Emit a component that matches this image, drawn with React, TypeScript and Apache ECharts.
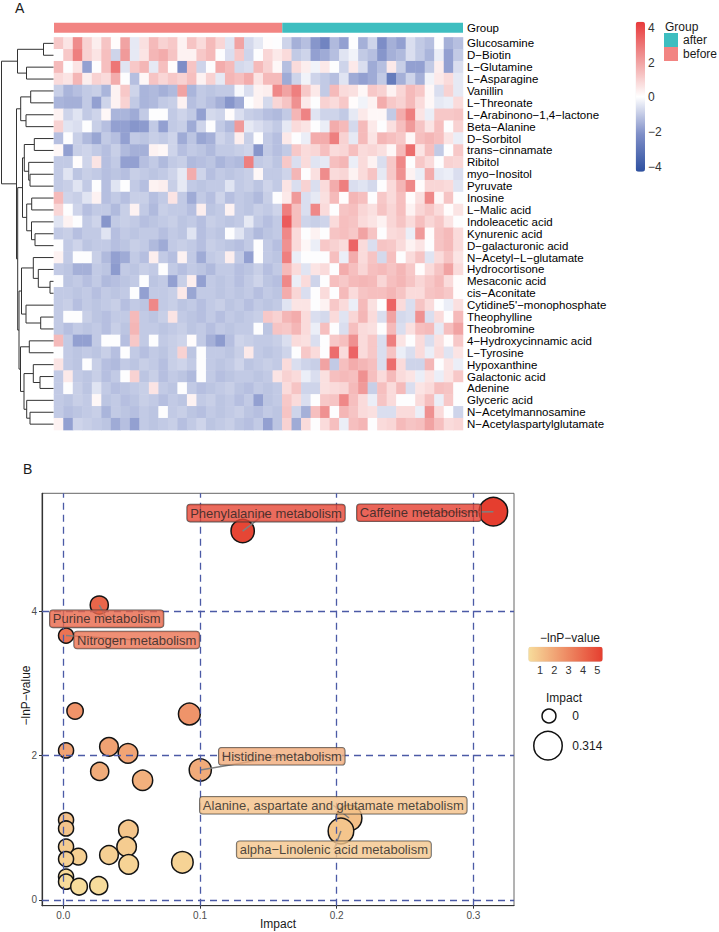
import React, { useEffect, useRef } from "react";
import * as echarts from "echarts";

// ---------------- Panel A data ----------------
const metabolites = [
  "Glucosamine", "D−Biotin", "L−Glutamine", "L−Asparagine", "Vanillin", "L−Threonate",
  "L−Arabinono−1,4−lactone", "Beta−Alanine", "D−Sorbitol", "trans−cinnamate", "Ribitol",
  "myo−Inositol", "Pyruvate", "Inosine", "L−Malic acid", "Indoleacetic acid", "Kynurenic acid",
  "D−galacturonic acid", "N−Acetyl−L−glutamate", "Hydrocortisone", "Mesaconic acid", "cis−Aconitate",
  "Cytidine5'−monophosphate", "Theophylline", "Theobromine", "4−Hydroxycinnamic acid", "L−Tyrosine",
  "Hypoxanthine", "Galactonic acid", "Adenine", "Glyceric acid", "N−Acetylmannosamine",
  "N−Acetylaspartylglutamate",
];
const groupNames = ["before", "after"];
const groupSizes = [24, 19];

const heatBefore: number[][] = [
  [1.2, 0.6, 2.5, 1.0, 0.4, 1.3, 0.1, 2.0, -0.4, 0.7, 1.5, 1.0, 1.2, 0.3, 1.3, 0.8, 1.5, 0.9, -0.5, 2.0, -0.7, -0.4, 0.1, 0.0],
  [0.0, 1.2, 2.8, 1.0, 0.6, 1.4, -0.8, 2.2, -0.4, 0.6, 1.6, 1.8, 1.3, 0.3, 0.3, 1.2, 1.5, 0.0, -0.6, 1.2, -0.8, 0.0, 0.9, 0.5],
  [1.5, 0.0, 0.6, -1.8, 0.0, 1.4, 3.0, -0.5, 1.2, 1.6, -0.4, 1.4, 0.1, -2.2, 1.3, -0.8, 0.0, 1.8, 1.5, -0.7, -0.6, 1.5, 1.0, 0.2],
  [0.8, 0.6, 1.6, 0.4, 1.0, 0.8, 1.8, 0.0, -1.2, 0.2, 1.3, 0.9, 1.2, 1.0, 1.4, 0.3, 1.0, -0.4, 1.6, 1.4, 1.8, 0.6, 1.5, 1.5],
  [-0.9, -1.4, -1.2, -1.0, -0.9, -1.4, 0.3, 1.2, -0.8, -1.4, -1.3, -1.5, -1.3, 2.0, -1.4, -1.0, -1.1, -1.0, -1.0, -0.1, -0.6, 0.3, 0.4, 2.6],
  [-1.4, -1.5, -1.5, -1.0, -1.8, -0.8, 0.3, 1.0, -1.0, -1.4, -1.3, -1.0, -0.9, 0.3, -1.2, -1.0, -1.2, -1.5, -2.0, -1.6, 0.0, 0.3, -0.7, 0.9],
  [0.3, -0.8, -0.5, -1.0, -0.8, 0.2, -1.4, -1.4, -1.6, -1.0, 0.0, 0.0, -1.0, -0.8, -1.0, -1.8, -0.7, -0.8, 0.1, -0.6, -0.9, -1.0, -1.2, -1.3],
  [1.0, -0.5, -0.6, 0.0, -0.9, -1.2, -1.8, -1.8, -2.0, -1.9, -1.0, -1.8, -1.0, -0.9, -1.6, -0.8, 0.0, -1.0, -1.3, 2.2, -0.4, -0.6, -0.8, -1.0],
  [-1.2, 0.0, -0.9, -1.3, -1.7, -1.0, -1.2, -1.8, -1.0, -1.1, -0.9, -1.0, -0.8, -1.6, -1.1, -1.7, -1.5, -0.8, -1.0, 0.4, -0.9, 0.0, -1.0, -1.2],
  [0.2, -1.8, -0.9, -0.8, -1.0, -1.2, -0.9, -1.3, -1.5, -1.5, 0.3, 0.2, -0.8, -1.2, -1.0, -1.1, -1.3, -1.0, -1.0, -0.9, -0.8, -2.0, -1.0, -1.2],
  [-1.0, -1.0, 0.1, -0.8, 0.6, -1.2, -1.0, -1.8, -1.8, -1.2, -1.0, -1.3, -1.0, -0.9, -1.3, -1.2, -1.1, -1.4, -1.2, -1.3, 2.8, -1.0, -0.9, -1.1],
  [-1.0, -0.5, -1.1, -0.9, -1.0, -1.2, -1.1, -1.2, -0.9, -1.0, -1.1, -1.0, -0.8, -0.4, 1.8, -0.8, -1.2, -1.0, -1.1, -1.0, -0.9, 0.2, -1.0, -1.0],
  [-1.0, -0.9, -0.5, -1.0, 0.0, -1.2, -0.5, 0.0, -1.0, -1.2, 0.3, 0.4, -0.9, -0.4, -1.0, -1.1, -1.0, -1.0, -0.5, -1.0, -0.9, -1.1, -0.8, -1.0],
  [1.5, -0.8, -0.9, -0.5, 0.3, -1.2, -1.0, -1.2, -0.9, -0.9, -1.2, -1.0, 0.6, -1.0, -1.6, -1.0, -1.2, -0.8, -1.2, -1.0, -1.1, -1.3, -0.9, 0.0],
  [0.9, 0.0, -0.8, -1.2, -1.0, -1.0, -1.3, -0.9, 0.3, -1.0, -1.3, -0.9, -1.0, -1.0, -1.2, 0.4, -1.1, -1.0, 0.3, -1.0, -1.1, -0.9, -1.0, -0.8],
  [-0.5, 0.3, 0.0, -1.0, -0.8, -2.0, -1.0, -0.9, -1.0, -1.2, -1.1, -1.0, -0.9, -1.1, -1.0, -1.2, -0.9, -1.0, -1.1, -1.0, -0.4, -1.0, -1.2, -1.0],
  [-1.0, -0.9, -1.2, -1.0, -1.0, -0.5, -1.2, -1.0, -1.1, -1.0, -1.0, -1.2, -1.0, -1.1, -0.5, -1.2, -1.0, -1.1, 0.0, -0.5, -1.0, -1.3, -1.1, -1.0],
  [0.0, -1.0, -0.8, -1.1, -1.0, -1.0, -1.2, -1.1, -0.9, -1.0, -1.3, -1.6, -1.0, -0.9, -1.0, -1.2, -0.9, -1.0, -1.1, -1.2, -1.0, 0.0, -1.0, -1.2],
  [0.3, -1.0, 0.0, 0.0, -0.9, -1.3, -1.8, -1.6, -1.0, -1.2, 0.4, -1.0, -1.2, 0.3, -1.0, -1.6, -1.0, -0.9, 0.4, -1.0, -1.8, 0.0, -1.0, -1.1],
  [-1.0, -1.1, -1.5, -1.5, -1.0, -1.1, -1.9, -1.0, -1.1, -0.9, -1.0, 0.0, -1.0, -1.2, -1.0, -1.1, -1.3, -1.0, -1.0, -1.2, -1.1, -0.9, -1.2, -1.0],
  [0.0, -1.1, -1.0, -1.2, -1.0, -1.3, -1.2, -1.1, -1.0, 0.0, -1.1, -1.0, -1.8, -0.9, 0.4, -1.8, -1.0, -1.1, -1.0, -1.2, -1.0, -0.8, -1.1, -1.2],
  [-1.0, -1.0, -1.1, -1.0, -1.2, -1.0, -1.1, -1.0, 0.0, -1.8, -1.0, -1.0, -0.9, 0.5, -1.7, -1.0, -1.0, -1.1, -1.0, -1.1, -1.0, -1.2, -1.0, -1.1],
  [-1.0, -0.9, -1.2, -1.0, -1.1, -1.0, -0.9, -1.2, -1.0, -1.1, 2.6, -1.0, -0.9, -1.1, -1.0, -1.2, -1.0, -0.9, -1.1, -1.0, -1.2, -1.0, -1.1, -1.0],
  [-1.0, 0.0, 0.0, -0.9, -1.1, -1.2, -1.0, -1.0, 1.5, -1.0, -1.1, -0.9, 0.6, -1.0, -1.1, -1.2, -1.0, -1.2, -1.0, -1.1, -1.0, -0.9, 1.2, 1.0],
  [-1.0, -1.2, -1.0, -1.1, -1.0, -1.2, -0.9, -1.1, 1.6, -1.0, -1.0, -1.1, -1.0, -0.9, -1.1, -1.0, -1.2, -1.0, -1.1, -1.0, -1.0, 0.0, -1.1, 1.3],
  [1.5, -1.0, -1.8, -1.8, -1.0, 0.0, 0.0, -1.2, 1.2, -1.0, 0.0, -1.0, -0.9, -0.8, 0.1, -1.0, -1.5, -1.9, -1.2, -0.8, -0.9, -1.0, -1.0, -0.9],
  [0.0, -1.0, -1.1, -1.0, -1.1, -0.9, -1.2, 0.0, -1.0, -1.2, -1.0, -1.1, -0.9, 1.0, -1.1, 0.0, -1.0, -1.0, -1.1, -0.9, 0.5, -1.0, -1.1, -1.0],
  [0.6, -1.0, -1.1, 0.0, -0.9, -1.2, -1.3, -1.0, -1.1, -0.9, -1.0, -1.2, -0.9, -0.8, -1.0, 0.0, -1.0, -1.1, -1.0, -0.8, -1.1, -1.0, -0.9, -1.0],
  [-1.0, 0.5, -1.0, -1.1, -0.9, -1.2, -1.0, 0.0, 1.0, -1.1, -0.9, -1.2, -1.0, -1.1, -1.3, 0.0, -1.0, -1.2, -1.1, -1.0, -1.0, -1.1, -1.0, 0.6],
  [-1.0, 0.0, -0.9, -1.1, -0.5, -1.0, -1.2, -1.1, -1.0, -0.9, 0.6, -1.0, -1.1, 0.0, -1.0, -1.2, -1.1, -1.0, -0.9, -1.1, -1.2, -1.0, -1.1, -1.0],
  [-1.0, -1.1, -0.9, -1.0, 0.2, -1.1, -1.0, -1.2, -1.1, -0.9, -1.0, -1.2, -1.0, -1.1, 0.3, -1.0, -0.9, -1.1, -1.0, -1.2, -1.0, -1.8, -1.1, -1.0],
  [-1.0, -1.2, -1.1, -1.0, -0.9, -1.4, -1.0, -1.1, -1.2, -1.0, -1.1, 0.0, -1.0, -0.9, -1.1, -1.2, -1.0, -1.1, -1.0, -0.9, -1.1, -1.2, -1.0, -1.1],
  [0.3, -1.8, -0.8, -0.9, -1.0, -1.1, -1.6, -1.2, -1.8, -1.0, -1.1, -1.0, -0.9, -1.2, -1.0, -0.8, -1.1, -1.0, -0.9, -1.1, -1.2, -1.0, -1.8, -1.1],
];

const heatAfter: number[][] = [
  [-0.8, -1.5, -1.2, -2.0, -2.5, -1.3, -1.8, 0.0, -1.5, -0.8, -2.2, -1.5, -1.8, -0.6, -1.0, -1.2, 0.0, -1.5, -1.2],
  [0.8, -1.0, -0.8, -1.8, -1.6, -1.2, -0.5, -0.2, -1.0, -1.2, -2.0, -1.5, -1.3, -0.6, -1.0, -1.4, -0.3, -1.8, -1.0],
  [-1.2, 0.8, 0.4, -0.2, 0.5, 0.0, -0.8, 0.5, -0.6, -1.6, -1.2, 0.5, -0.9, -1.8, -1.8, -1.0, 0.4, -1.8, -0.6],
  [-1.6, -0.8, -0.2, -0.8, -1.0, -1.2, -0.5, -1.6, -1.8, -1.6, -1.0, -2.8, -1.5, -0.8, -1.5, -0.2, 0.5, 0.8, -0.4],
  [2.0, 2.8, 1.2, 0.5, -1.0, 1.5, 0.8, 0.7, 0.2, 1.2, 1.0, 0.3, 0.9, 1.5, 1.2, 0.2, -0.6, 1.0, -0.4],
  [1.3, 2.4, 0.5, 0.0, 1.0, 0.8, 1.2, 0.1, -0.2, 0.3, 1.8, 1.2, 1.0, 1.5, 0.8, 0.2, -0.4, -0.3, 0.8],
  [-1.0, 1.6, 2.7, -0.5, -0.8, -0.8, -1.0, -0.4, 0.5, 0.2, 0.2, -1.0, 1.8, 2.8, 0.6, -0.3, 1.2, 1.2, 1.3],
  [-0.4, 0.8, 0.6, 0.0, -0.3, 1.8, 1.5, -0.7, 1.5, 0.5, 0.0, 0.7, 1.4, 2.2, 1.3, 0.6, 1.4, 0.0, 1.0],
  [0.5, 0.0, -0.3, 1.8, 1.8, 2.8, 1.0, -0.4, 1.5, 0.6, 1.6, 1.4, 1.2, 0.2, 1.4, 1.6, 1.4, 0.6, -0.3],
  [-1.0, 1.2, 0.8, 0.9, 1.4, 0.8, 0.9, 1.4, 0.8, 0.9, 0.7, 0.2, 1.5, 3.2, 0.6, 1.4, -1.0, 0.0, 1.2],
  [1.2, -0.6, 0.8, -0.5, -0.4, 1.4, 1.6, -0.3, 0.8, 0.3, -0.6, 1.2, 2.6, 0.0, 1.2, 0.8, 0.0, 1.0, 0.9],
  [-0.8, 1.6, 0.0, 0.7, 2.5, 0.8, 0.9, 0.3, 0.8, 1.3, -0.4, 1.2, 2.4, 0.3, -0.3, 1.8, -0.4, -0.3, -0.6],
  [0.6, -0.6, 1.0, -0.6, 0.8, 1.8, 2.8, -0.6, -0.5, -0.7, 0.0, 0.8, 1.6, 2.6, 0.1, 0.9, 0.9, 0.8, -0.5],
  [0.5, 2.2, -0.6, -0.4, 0.7, 1.5, 0.1, 1.6, 1.4, 0.0, 1.2, 0.8, 1.4, 0.1, 0.7, 2.6, 0.2, 1.3, 0.0],
  [2.8, 1.4, -0.6, 2.6, 0.8, 0.0, 1.3, 1.4, 0.9, 0.7, 1.3, 0.9, 1.4, 0.3, 0.9, 1.2, 0.8, 0.1, 0.6],
  [3.6, 1.4, -0.8, -0.9, -0.8, 0.8, 1.4, 1.3, 0.8, 0.6, 0.3, 0.9, 1.3, 0.8, 1.4, 0.9, 1.2, 0.6, 0.0],
  [2.6, 0.8, 0.0, 0.3, 0.0, 1.3, 1.4, 1.2, 2.0, 1.3, 0.0, 0.8, 0.9, -0.3, 2.2, 0.1, 1.3, 1.5, 0.8],
  [2.4, 0.8, 0.2, -0.3, 1.2, 1.0, 0.8, 3.4, 0.8, -0.6, 1.3, 1.2, 0.8, 0.3, 0.6, 0.0, 1.3, 1.5, 0.8],
  [2.8, -0.3, 0.0, 0.0, 0.0, 1.4, -0.3, 1.8, 0.8, 1.3, -0.7, 1.4, 0.0, 0.8, 1.3, -0.5, 0.8, 1.3, 0.6],
  [1.5, 0.8, -0.5, 0.6, 0.8, 0.0, 1.8, 1.4, 0.9, 1.4, 1.5, 1.3, 1.6, 1.2, 0.1, 0.8, 1.3, 2.0, 0.8],
  [2.6, -0.3, 0.8, -0.8, 0.0, 1.4, 1.2, 1.5, 1.6, 1.5, 0.9, 1.4, 1.6, 1.3, 0.9, 1.2, 1.5, 0.8, 0.1],
  [1.8, 0.9, -0.6, 0.0, 0.8, 0.0, 1.5, 0.8, 1.3, 1.4, 1.4, 1.6, 1.3, 0.8, 0.8, 1.3, 1.4, 1.2, 0.1],
  [-0.5, 0.6, 0.6, 0.0, 0.3, 1.2, 0.8, -0.3, 1.5, 0.7, 0.0, 3.4, 0.8, -0.6, 1.3, 0.8, 0.0, -0.3, 0.7],
  [1.6, 1.8, 0.8, -0.6, -0.7, 0.8, -0.5, 0.9, 1.6, 0.8, -0.6, 2.0, -0.7, -0.6, 2.4, -0.6, 0.8, 0.0, 1.5],
  [1.2, 1.6, 0.8, -0.3, 1.4, 0.0, -0.6, 1.4, 0.8, 0.7, 0.0, 1.5, -0.6, 0.7, 1.4, 1.5, -0.4, 1.4, 2.0],
  [-0.6, 0.8, 0.7, -0.6, 0.0, 1.2, 1.4, 2.4, 0.8, 1.2, -0.6, 2.8, 0.6, 0.0, 0.8, -0.6, 0.7, 0.1, 1.2],
  [-0.8, 0.0, 1.2, 0.8, 0.0, 3.2, 0.8, 3.4, 0.8, 1.2, -0.6, 1.3, -0.3, -0.6, 0.8, -0.3, 0.8, -0.5, 0.6],
  [0.8, -0.6, -0.8, -0.9, 2.0, -1.0, 1.4, 1.8, 1.6, 1.4, -0.6, 3.2, 0.8, -0.8, -0.8, 1.6, 0.0, 0.6, -0.3],
  [1.0, 0.8, -0.3, -0.6, 0.7, 1.4, 1.5, 1.4, 2.4, 1.4, 0.8, 1.5, 0.8, 0.6, -0.3, 0.6, -0.3, 0.6, 1.2],
  [0.8, 1.3, -0.8, -0.8, 0.7, 0.8, 0.9, 1.5, 2.2, -0.9, 1.4, 0.8, 1.5, -0.6, 0.6, 0.8, 1.4, 1.3, 0.0],
  [1.2, 0.8, -0.6, 0.0, 1.2, 1.3, 2.6, 1.4, 0.8, -0.3, 1.3, 0.8, 0.0, 0.0, 0.8, 1.4, -0.3, 1.2, 0.0],
  [1.3, -0.8, -1.5, 1.4, 2.4, 0.0, 1.6, 1.3, 0.8, 0.7, -0.6, -0.6, 0.8, 0.8, -0.3, 2.4, 0.8, 0.0, -0.8],
  [1.0, -1.6, 0.8, 0.0, 0.8, 1.4, -0.3, 1.4, 1.6, 0.0, 0.8, 0.9, 1.5, 1.3, 1.4, 2.0, 1.4, 0.8, 0.9],
];

// hclust-like merges: [childA, childB, height]; leaves 0..32, node ids 33+
const dendroMerges: [number, number, number][] = [
  [0, 1, 10], [2, 3, 27], [33, 34, 36],
  [4, 5, 22.8], [6, 7, 27.5], [36, 37, 32.8],
  [8, 9, 19.2], [11, 12, 23.5], [10, 40, 24.8], [39, 41, 29.2],
  [13, 14, 21.8], [16, 17, 18.5], [15, 44, 22], [43, 45, 26.8], [42, 46, 31],
  [20, 21, 3.5], [19, 48, 15.2], [18, 49, 20.2], [23, 24, 12.8], [22, 51, 27.5], [50, 52, 32],
  [25, 26, 24.2], [28, 29, 13.5], [27, 55, 20.2], [31, 32, 23.5], [30, 57, 26.8], [56, 58, 29.5], [54, 59, 33],
  [53, 60, 34.5], [47, 61, 35.8], [38, 62, 37], [35, 63, 52],
];

const heatTicks = [-4, -2, 0, 2, 4];
const heatRange = [-4.3, 4.36];

// ---------------- Panel B data ----------------
const pathwayImpact = [0.3146, 0.1312, 0.0263, 0.002, 0.0086, 0.0922, 0.002, 0.0334, 0.0473, 0.0266, 0.058, 0.1002, 0.002, 0.002, 0.0476, 0.002, 0.011, 0.002, 0.0334, 0.0463, 0.0478, 0.0871, 0.002, 0.002, 0.0115, 0.0259, 0.209, 0.2031];
const pathwayLnP = [5.375, 5.107, 4.083, 3.66, 2.616, 2.574, 2.07, 2.12, 2.03, 1.78, 1.657, 1.8, 1.107, 0.99, 0.969, 0.738, 0.6, 0.567, 0.623, 0.738, 0.494, 0.522, 0.323, 0.253, 0.184, 0.198, 1.135, 0.955];
const labelNames = ["Caffeine metabolism", "Phenylalanine metabolism", "Purine metabolism", "Nitrogen metabolism", "Histidine metabolism", "Alanine, aspartate and glutamate metabolism", "alpha−Linolenic acid metabolism"];
const labelPoint = [0, 1, 2, 3, 11, 26, 27];
const labelImpact = [0.2602, 0.1483, 0.0317, 0.0537, 0.1598, 0.1975, 0.1979];
const labelLnP = [5.36, 5.356, 3.892, 3.599, 1.989, 1.311, 0.695];
const impactTicks = [0, 0.1, 0.2, 0.3];
const lnPTicks = [0, 2, 4];
const lnPLegendTicks = [1, 2, 3, 4, 5];
const lnPRange = [0.18, 5.38];
const sizeLegendValues = [0, 0.314];

// ---------------- styles ----------------
const FONT = "Liberation Sans, Arial, Helvetica, sans-serif";
const heatColors = ["#2E50A0", "#7F8FC8", "#FFFFFF", "#F09A9A", "#E8393A"];
const groupColors: Record<string, string> = { before: "#F28482", after: "#3EBEC0" };
const lnPColors = ["#F7DD9C", "#E53E2F"];

function hexToRgb(h: string) {
  const n = parseInt(h.slice(1), 16);
  return [(n >> 16) & 255, (n >> 8) & 255, n & 255];
}
function lnPColor(v: number) {
  const t = Math.max(0, Math.min(1, (v - lnPRange[0]) / (lnPRange[1] - lnPRange[0])));
  const a = hexToRgb(lnPColors[0]);
  const b = hexToRgb(lnPColors[1]);
  const c = a.map((x, i) => Math.round(x + (b[i] - x) * t));
  return `rgb(${c[0]},${c[1]},${c[2]})`;
}
const bubbleRadius = (impact: number) => 7.7 + 13 * Math.sqrt(Math.max(0, impact));

const minus = (s: string) => s.replace(/-/g, "−");

export default function App() {
  const ref = useRef<HTMLDivElement>(null);

  useEffect(() => {
    document.body.style.margin = "0";
    if (!ref.current) return;
    const chart = echarts.init(ref.current, undefined, { renderer: "svg" });

    const nBefore = groupSizes[0];
    const nCols = groupSizes[0] + groupSizes[1];
    const colIds = Array.from({ length: nCols }, (_, i) =>
      i < nBefore ? `${groupNames[0]}${i + 1}` : `${groupNames[1]}${i - nBefore + 1}`
    );
    const heatData: number[][] = [];
    metabolites.forEach((_, r) => {
      heatBefore[r].forEach((v, c) => heatData.push([c, r, v]));
      heatAfter[r].forEach((v, c) => heatData.push([nBefore + c, r, v]));
    });

    // dendrogram
    const nLeaf = metabolites.length;
    const nodeY: number[] = [];
    const nodeH: number[] = [];
    for (let i = 0; i < nLeaf; i++) {
      nodeY[i] = i;
      nodeH[i] = 0;
    }
    const dendroLines = dendroMerges.map(([a, b, h], k) => {
      const id = nLeaf + k;
      nodeY[id] = (nodeY[a] + nodeY[b]) / 2;
      nodeH[id] = h;
      return {
        coords: [
          [nodeH[a], nodeY[a]],
          [h, nodeY[a]],
          [h, nodeY[b]],
          [nodeH[b], nodeY[b]],
        ],
      };
    });

    const bubbleData = pathwayImpact.map((x, i) => [x, pathwayLnP[i]]);
    const connectorData = labelPoint.map((p, i) => ({
      coords: [
        [pathwayImpact[p], pathwayLnP[p]],
        [labelImpact[i], labelLnP[i]],
      ],
    }));
    const labelData = labelNames.map((n, i) => ({
      name: n,
      value: [labelImpact[i], labelLnP[i]],
      label: { backgroundColor: lnPColor(pathwayLnP[labelPoint[i]]) },
    }));

    // grid geometry
    const hmLeft = 54, hmTop = 37.4, hmW = 409, hmH = 392.7;
    const bLeft = 42, bTop = 493.3, bW = 472, bH = 412.4;
    const cbLeft = 528.3, cbTop = 646.7, cbW = 74.4, cbH = 15;

    const sizeLegend = [
      { cx: 549, cy: 716 },
      { cx: 548, cy: 745.7 },
    ];

    const txt = (text: string, x: number, y: number, fontSize: number, align = "left", extra: any = {}) => ({
      type: "text",
      x,
      y,
      ...extra,
      style: {
        text,
        fontSize,
        fontFamily: FONT,
        fill: "#1a1a1a",
        align,
        verticalAlign: "middle",
        textAlign: align,
        textVerticalAlign: "middle",
      },
    });

    const option: any = {
      animation: false,
      textStyle: { fontFamily: FONT },
      grid: [
        { left: hmLeft, top: hmTop, width: hmW, height: hmH },
        { left: hmLeft, top: 22.7, width: hmW, height: 10 },
        { left: 0, top: hmTop, width: 53.5, height: hmH },
        { left: 635.7, top: 21.7, width: 9.3, height: 150 },
        { left: bLeft, top: bTop, width: bW, height: bH, show: true, borderColor: "#666", borderWidth: 1 },
        { left: cbLeft, top: cbTop, width: cbW, height: cbH },
      ],
      xAxis: [
        { type: "category", gridIndex: 0, data: colIds, show: false },
        { type: "value", gridIndex: 1, min: 0, max: nCols, show: false },
        { type: "value", gridIndex: 2, min: 0, max: 53.5, inverse: true, show: false },
        { type: "value", gridIndex: 3, min: 0, max: 1, show: false },
        {
          type: "value",
          gridIndex: 4,
          min: -0.0156,
          max: 0.3297,
          axisLine: { show: true, onZero: false, lineStyle: { color: "#333", width: 1.2 } },
          axisTick: { show: true, customValues: impactTicks, length: 3, lineStyle: { color: "#333" } },
          axisLabel: { customValues: impactTicks, formatter: (v: number) => v.toFixed(1), fontSize: 10, color: "#4d4d4d", margin: 5 },
          splitLine: { show: false },
        },
        {
          type: "value",
          gridIndex: 5,
          min: lnPRange[0],
          max: lnPRange[1],
          axisLine: { show: false },
          axisTick: { show: true, inside: true, customValues: lnPLegendTicks, length: 3, lineStyle: { color: "#fff", width: 1 } },
          axisLabel: { customValues: lnPLegendTicks, fontSize: 11, color: "#333", margin: 3 },
          splitLine: { show: false },
        },
      ],
      yAxis: [
        {
          type: "category",
          gridIndex: 0,
          data: metabolites,
          inverse: true,
          position: "right",
          axisLine: { show: false },
          axisTick: { show: false },
          axisLabel: { interval: 0, fontSize: 11.5, color: "#000", margin: 4 },
        },
        {
          type: "category",
          gridIndex: 1,
          data: ["Group"],
          position: "right",
          axisLine: { show: false },
          axisTick: { show: false },
          axisLabel: { fontSize: 11.5, color: "#000", margin: 4 },
        },
        { type: "value", gridIndex: 2, min: -0.5, max: nLeaf - 0.5, inverse: true, show: false },
        {
          type: "value",
          gridIndex: 3,
          min: heatRange[0],
          max: heatRange[1],
          position: "right",
          axisLine: { show: false },
          axisTick: { show: false },
          splitLine: { show: false },
          axisLabel: { customValues: heatTicks, formatter: (v: number) => minus(String(v)), fontSize: 12, color: "#333", margin: 3 },
        },
        {
          type: "value",
          gridIndex: 4,
          min: -0.079,
          max: 5.63,
          axisLine: { show: true, onZero: false, lineStyle: { color: "#333", width: 1.2 } },
          axisTick: { show: true, customValues: lnPTicks, length: 3, lineStyle: { color: "#333" } },
          axisLabel: { customValues: lnPTicks, fontSize: 10, color: "#4d4d4d", margin: 5 },
          splitLine: { show: false },
        },
        { type: "value", gridIndex: 5, min: 0, max: 1, show: false },
      ],
      visualMap: [
        {
          type: "continuous",
          seriesIndex: 0,
          min: heatRange[0],
          max: heatRange[1],
          inRange: { color: heatColors },
          left: 635.7,
          top: 21.7,
          itemWidth: 9.3,
          itemHeight: 150,
          padding: 0,
          calculable: false,
          text: ["", ""],
        },
        {
          type: "continuous",
          seriesIndex: 4,
          dimension: 1,
          min: lnPRange[0],
          max: lnPRange[1],
          inRange: { color: lnPColors },
          orient: "horizontal",
          left: cbLeft,
          top: cbTop,
          itemWidth: cbH,
          itemHeight: cbW,
          padding: 0,
          calculable: false,
          text: ["", ""],
        },
      ],
      legend: {
        data: ["after", "before"],
        orient: "vertical",
        left: 664,
        top: 33,
        itemWidth: 14,
        itemHeight: 14,
        itemGap: 0,
        padding: 0,
        icon: "rect",
        selectedMode: false,
        textStyle: { fontSize: 12, color: "#1a1a1a", fontFamily: FONT },
      },
      series: [
        {
          type: "heatmap",
          xAxisIndex: 0,
          yAxisIndex: 0,
          data: heatData,
          progressive: 0,
          itemStyle: { borderWidth: 0 },
          emphasis: { disabled: true },
        },
        {
          name: groupNames[0],
          type: "bar",
          xAxisIndex: 1,
          yAxisIndex: 1,
          stack: "grp",
          barWidth: "100%",
          data: [groupSizes[0]],
          itemStyle: { color: groupColors[groupNames[0]] },
        },
        {
          name: groupNames[1],
          type: "bar",
          xAxisIndex: 1,
          yAxisIndex: 1,
          stack: "grp",
          barWidth: "100%",
          data: [groupSizes[1]],
          itemStyle: { color: groupColors[groupNames[1]] },
        },
        {
          type: "lines",
          coordinateSystem: "cartesian2d",
          xAxisIndex: 2,
          yAxisIndex: 2,
          polyline: true,
          silent: true,
          data: dendroLines,
          lineStyle: { color: "#333", width: 1, opacity: 1 },
        },
        {
          type: "scatter",
          xAxisIndex: 4,
          yAxisIndex: 4,
          z: 3,
          data: bubbleData,
          symbolSize: (v: number[]) => 2 * bubbleRadius(v[0]) - 1.5,
          itemStyle: { borderColor: "#141414", borderWidth: 1.5, opacity: 1 },
          emphasis: { disabled: true },
        },
        {
          type: "scatter",
          xAxisIndex: 4,
          yAxisIndex: 4,
          z: 1,
          data: [],
          markLine: {
            silent: true,
            symbol: ["none", "none"],
            label: { show: false },
            lineStyle: { color: "#4B5AA6", type: [7, 5], width: 1.3 },
            data: [
              ...impactTicks.map((v) => ({ xAxis: v })),
              ...lnPTicks.map((v) => ({ yAxis: v })),
            ],
          },
        },
        {
          type: "lines",
          coordinateSystem: "cartesian2d",
          xAxisIndex: 4,
          yAxisIndex: 4,
          z: 4,
          silent: true,
          data: connectorData,
          lineStyle: { color: "#808080", width: 1.5, opacity: 1 },
        },
        {
          type: "scatter",
          xAxisIndex: 4,
          yAxisIndex: 4,
          z: 5,
          symbolSize: 2,
          silent: true,
          data: labelData,
          itemStyle: { color: "rgba(0,0,0,0)" },
          labelLayout: { hideOverlap: false },
          label: {
            show: true,
            position: "inside",
            formatter: "{b}",
            fontSize: 13,
            lineHeight: 14,
            color: "#222",
            fontFamily: FONT,
            borderColor: "#3a3a3a",
            borderWidth: 0.8,
            borderRadius: 3,
            padding: [2, 3, 1, 3],
          },
        },
      ],
      graphic: [
        txt("A", 15, 8, 14),
        txt("B", 23, 469, 14),
        txt("Group", 665, 26.7, 12),
        txt("Impact", bLeft + bW / 2, 924, 12, "center"),
        txt("−lnP−value", 26, bTop + bH / 2 - 4, 12, "center", { rotation: Math.PI / 2 }),
        txt("−lnP−value", 540, 637.7, 12),
        txt("Impact", 546, 698.3, 12),
        ...sizeLegendValues.map((v, i) => ({
          type: "circle",
          shape: { cx: sizeLegend[i].cx, cy: sizeLegend[i].cy, r: bubbleRadius(v) - 0.75 },
          style: { fill: "transparent", stroke: "#111", lineWidth: 1.5 },
        })),
        ...sizeLegendValues.map((v, i) => txt(String(v), 572.3, sizeLegend[i].cy, 12)),
      ],
    };

    chart.setOption(option);
    return () => chart.dispose();
  }, []);

  return <div ref={ref} style={{ width: 719, height: 932 }} />;
}
